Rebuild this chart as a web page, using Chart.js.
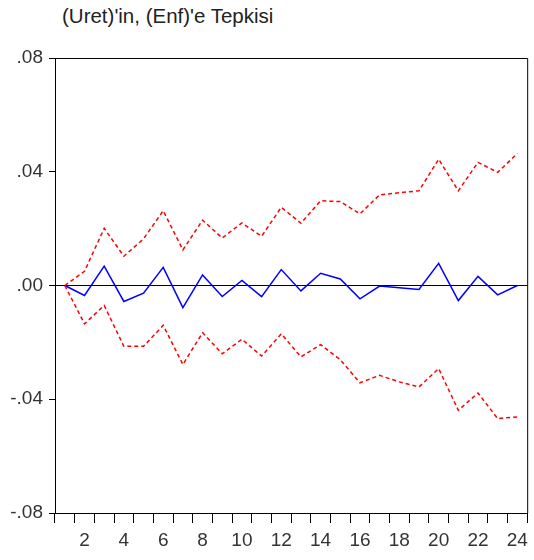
<!DOCTYPE html>
<html>
<head>
<meta charset="utf-8">
<script src="https://cdn.jsdelivr.net/npm/chart.js@4/dist/chart.umd.min.js"></script>
<style>
  html, body { margin: 0; padding: 0; background: #fff; }
  #wrap { position: relative; width: 534px; height: 560px; }
  #title {
    position: absolute; left: 62px; top: 5px;
    font-family: "Liberation Sans", Arial, sans-serif; font-size: 20.5px;
    line-height: 22px; color: #222; white-space: nowrap;
  }
  canvas { position: absolute; left: 0; top: 0; }
</style>
</head>
<body>
<div id="wrap">
  <div id="title">(Uret)'in, (Enf)'e Tepkisi</div>
  <canvas id="c" width="534" height="560"></canvas>
</div>
<script>
// Periods 1..24 of the impulse response
const periods = ['1','2','3','4','5','6','7','8','9','10','11','12',
                 '13','14','15','16','17','18','19','20','21','22','23','24'];

// Response of Uret to a shock in Enf
const response = [0.0, -0.0035, 0.0068, -0.0056, -0.0027, 0.0064, -0.0078, 0.0037,
                  -0.0039, 0.0018, -0.0039, 0.0056, -0.0019, 0.0043, 0.0023, -0.0047,
                  -0.0002, -0.0008, -0.0014, 0.0078, -0.0053, 0.0032, -0.0033, 0.0];

// Upper and lower +/- 2 S.E. bands
const upperBand = [0.0, 0.0050, 0.0201, 0.0103, 0.0164, 0.0263, 0.0125, 0.0230,
                   0.0167, 0.0220, 0.0173, 0.0275, 0.0219, 0.0298, 0.0295, 0.0252,
                   0.0319, 0.0326, 0.0333, 0.0444, 0.0333, 0.0433, 0.0398, 0.0464];
const lowerBand = [0.0, -0.0135, -0.0070, -0.0214, -0.0214, -0.0140, -0.0278, -0.0166,
                   -0.0240, -0.0189, -0.0248, -0.0170, -0.0251, -0.0208, -0.0261, -0.0342,
                   -0.0316, -0.0339, -0.0357, -0.0292, -0.0439, -0.0378, -0.0468, -0.0462];

// Y tick values
const yTicks = [-0.08, -0.04, 0.0, 0.04, 0.08];

const tickFont = { family: "'Liberation Sans', Arial, sans-serif", size: 19 };

function fmtY(v) {
  if (Math.abs(v) < 1e-9) return '.00';
  const s = Math.abs(v).toFixed(2).replace(/^0/, '');
  return (v < 0 ? '-' : '') + s;
}

// Draws the top and right sides of the plot frame
const framePlugin = {
  id: 'frame',
  afterDraw(chart) {
    const { ctx, chartArea: a } = chart;
    ctx.save();
    ctx.strokeStyle = '#000';
    ctx.lineWidth = 1;
    ctx.beginPath();
    ctx.moveTo(a.left, a.top + 0.5);
    ctx.lineTo(a.right + 0.5, a.top + 0.5);
    ctx.lineTo(a.right + 0.5, a.bottom);
    ctx.stroke();
    ctx.restore();
  }
};

new Chart(document.getElementById('c'), {
  type: 'line',
  data: {
    labels: periods,
    datasets: [
      { data: upperBand, borderColor: '#ff0000', borderWidth: 1.5, borderDash: [4, 3] },
      { data: lowerBand, borderColor: '#ff0000', borderWidth: 1.5, borderDash: [4, 3] },
      { data: response, borderColor: '#0000ff', borderWidth: 1.5 }
    ]
  },
  options: {
    responsive: false,
    animation: false,
    events: [],
    layout: { padding: { top: 58, right: 4, left: 0, bottom: 0 } },
    elements: { point: { radius: 0 }, line: { tension: 0 } },
    plugins: { legend: { display: false }, title: { display: false }, tooltip: { enabled: false } },
    scales: {
      x: {
        type: 'category',
        offset: true,
        grid: { offset: true, drawOnChartArea: false, tickLength: 10, tickColor: '#000', lineWidth: 1 },
        border: { display: true, color: '#000', width: 1 },
        ticks: {
          autoSkip: false, maxRotation: 0, padding: 6,
          color: '#333', font: tickFont,
          callback: (val, i) => ((i + 1) % 2 === 0 ? periods[i] : '')
        },
        afterFit(s) { s.height = 47; }
      },
      y: {
        min: -0.08, max: 0.08,
        afterBuildTicks(s) { s.ticks = yTicks.map(v => ({ value: v })); },
        grid: {
          drawOnChartArea: true, tickLength: 6, tickColor: '#000',
          color: c => (c.tick && Math.abs(c.tick.value) < 1e-9 ? '#000' : 'rgba(0,0,0,0)'),
          lineWidth: 1
        },
        border: { display: true, color: '#000', width: 1 },
        ticks: { color: '#333', font: tickFont, padding: 6, callback: v => fmtY(v) },
        afterFit(s) { s.width = 55; }
      }
    }
  },
  plugins: [framePlugin]
});
</script>
</body>
</html>
